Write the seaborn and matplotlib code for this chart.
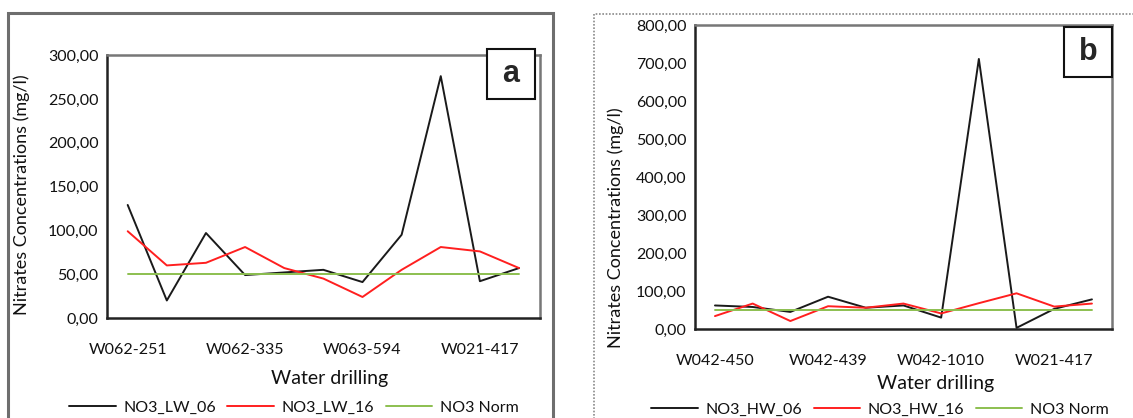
import numpy as np
import pandas as pd
import seaborn as sns
import matplotlib.pyplot as plt
from matplotlib.patches import Rectangle

# sample index along the x axis (11 wells per panel)
wells_a = ["W062-251", "", "", "W062-335", "", "", "W063-594", "", "", "W021-417", ""]
wells_b = ["W042-450", "", "", "W042-439", "", "", "W042-1010", "", "", "W021-417", ""]

lw_06 = [129, 20, 97, 49, 52, 55, 41, 95, 276, 42, 57]
lw_16 = [99, 60, 63, 81, 57, 45, 24, 55, 81, 76, 57]
hw_06 = [62, 58, 45, 85, 56, 62, 30, 711, 3, 53, 78]
hw_16 = [34, 67, 21, 60, 56, 67, 41, 68, 94, 59, 67]
norm_value = 50

yticks_a = [0, 50, 100, 150, 200, 250, 300]
yticks_b = [0, 100, 200, 300, 400, 500, 600, 700, 800]

sns.set_theme(style="white")
plt.rcParams['font.family'] = ['Lato', 'DejaVu Sans']


def long_frame(s06, s16, names):
    n = len(s06)
    return pd.DataFrame({
        "idx": list(range(n)) * 3,
        "series": [names[0]] * n + [names[1]] * n + [names[2]] * n,
        "value": list(s06) + list(s16) + [norm_value] * n,
    })


def comma(v):
    return f"{v:.2f}".replace(".", ",")


fig = plt.figure(figsize=(11.33, 4.18), dpi=100)
ax_a = fig.add_axes([0.0944, 0.2392, 0.382, 0.629])
ax_b = fig.add_axes([0.6134, 0.2129, 0.368, 0.727])

panels = [
    (ax_a, long_frame(lw_06, lw_16, ["NO3_LW_06", "NO3_LW_16", "NO3 Norm"]), wells_a, yticks_a, "a",
     (0.515, -0.198), (-0.178, 0.468), (0.432, -0.342), (0.878, 0.833, 0.110, 0.190)),
    (ax_b, long_frame(hw_06, hw_16, ["NO3_HW_06", "NO3_HW_16", "NO3 Norm"]), wells_b, yticks_b, "b",
     (0.576, -0.151), (-0.170, 0.332), (0.444, -0.266), (0.885, 0.829, 0.115, 0.164)),
]

for ax, df, wells, yt, tag, xl, yl, leg, box in panels:
    names = df["series"].unique()
    pal = dict(zip(names, ["#1a1a1a", "#ff1f1f", "#8cbf4f"]))
    sns.lineplot(data=df, x="idx", y="value", hue="series", palette=pal,
                 linewidth=1.4, ax=ax)
    ax.set_xlim(-0.53, len(wells) - 0.47)
    ax.set_ylim(yt[0], yt[-1])
    ticks = [i for i, w in enumerate(wells) if w]
    ax.set_xticks(ticks)
    ax.set_xticklabels([wells[i] for i in ticks], fontsize=11.5, color="#111111")
    ax.set_yticks(yt)
    ax.set_yticklabels([comma(v) for v in yt], fontsize=11.5, color="#111111")
    ax.tick_params(axis="x", length=0, pad=18)
    ax.tick_params(axis="y", length=0, pad=6)
    ax.set_xlabel("Water drilling", fontsize=14, color="#111111")
    ax.set_ylabel("Nitrates Concentrations (mg/l)", fontsize=13, color="#111111")
    ax.xaxis.set_label_coords(*xl)
    ax.yaxis.set_label_coords(*yl)
    for side in ["left", "bottom"]:
        ax.spines[side].set_color("#222222")
        ax.spines[side].set_linewidth(1.8)
    for side in ["top", "right"]:
        ax.spines[side].set_color("#777777")
        ax.spines[side].set_linewidth(1.8)
    sns.move_legend(ax, "center", bbox_to_anchor=leg, ncol=3, frameon=False,
                    title=None, fontsize=11.5, handlelength=2.9, columnspacing=0.7,
                    handletextpad=0.5, prop={"size": 11.5})
    for t in ax.get_legend().get_texts():
        t.set_color("#111111")
    bx, by, bw, bh = box
    ax.add_patch(Rectangle((bx, by), bw, bh, transform=ax.transAxes, facecolor="white",
                           edgecolor="#111111", linewidth=1.5, clip_on=False, zorder=5))
    ax.text(bx + bw / 2, by + bh / 2, tag, transform=ax.transAxes, ha="center", va="center",
            fontsize=22, fontweight="bold", family="Liberation Sans", zorder=6)

# panel frames
fig.add_artist(Rectangle((0.007, -0.05), 0.481, 1.019, transform=fig.transFigure,
                         fill=False, edgecolor="#6e6e6e", linewidth=2.2))
fig.add_artist(Rectangle((0.524, -0.05), 0.5, 1.017, transform=fig.transFigure,
                         fill=False, edgecolor="#8a8a8a", linewidth=1.2, linestyle=(0, (1, 1))))

fig.savefig("out.png", dpi=100)
